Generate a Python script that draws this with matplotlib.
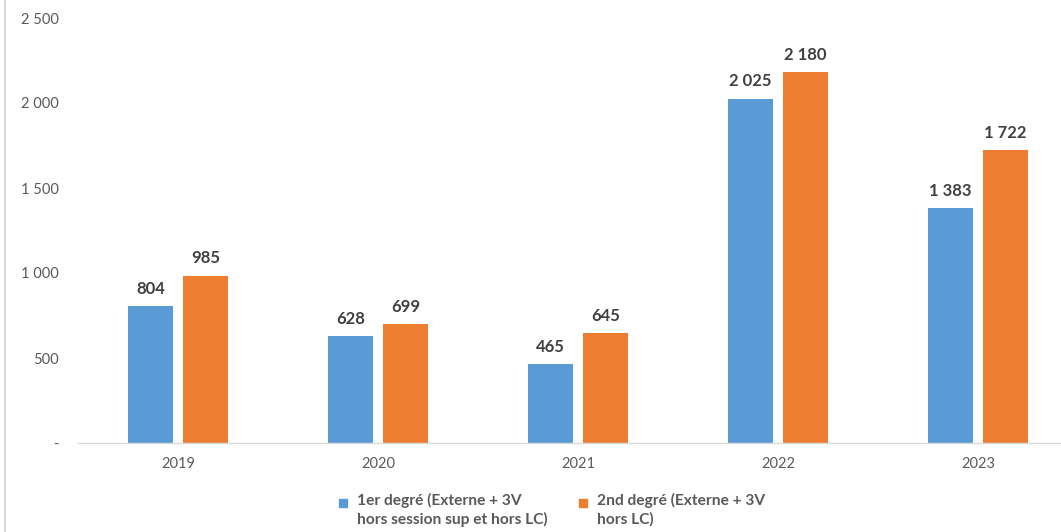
import matplotlib.pyplot as plt
import numpy as np
from matplotlib.lines import Line2D
from matplotlib.patches import Rectangle

years = ["2019", "2020", "2021", "2022", "2023"]
premier = [804, 628, 465, 2025, 1383]
second = [985, 699, 645, 2180, 1722]
series_labels = ["1er degré (Externe + 3V\nhors session sup et hors LC)",
                 "2nd degré (Externe + 3V\nhors LC)"]
yticks = [0, 500, 1000, 1500, 2000, 2500]
ytick_labels = ["-", "500", "1 000", "1 500", "2 000", "2 500"]

blue = "#5B9BD5"
orange = "#ED7D31"
font = ["Lato", "DejaVu Sans"]
plt.rcParams['font.family'] = font

W, H = 1061, 532
fig = plt.figure(figsize=(W/100, H/100), dpi=100)
ax = fig.add_axes([78/W, 89/H, 1000/W, 425/H])

x = np.arange(len(years))
bw = 0.225
off = 0.1375
b1 = ax.bar(x - off, premier, bw, color=blue)
b2 = ax.bar(x + off, second, bw, color=orange)

def fmt(v):
    return f"{v:,}".replace(",", " ")

for bars, vals in ((b1, premier), (b2, second)):
    for r, v in zip(bars, vals):
        ax.text(r.get_x() + r.get_width()/2, v + 55, fmt(v), ha="center", va="bottom",
                fontsize=12, fontweight="bold", color="#404040")

ax.set_xlim(-0.5, 4.5)
ax.set_ylim(0, 2500)
ax.set_yticks(yticks)
ax.set_yticklabels(ytick_labels)
ax.set_xticks(x)
ax.set_xticklabels(years)
ax.tick_params(axis="both", length=0, labelsize=10.5, labelcolor="#595959")
ax.tick_params(axis="y", pad=14)
ax.tick_params(axis="x", pad=10)
for s in ("top", "right", "left"):
    ax.spines[s].set_visible(False)
ax.spines["bottom"].set_color("#D9D9D9")
ax.spines["bottom"].set_linewidth(1)

# legend drawn manually (marker aligned with first line of text)
leg_items = [(343, blue, series_labels[0]), (583, orange, series_labels[1])]
for px, col, lab in leg_items:
    fig.add_artist(Rectangle(((px - 4) / W, 1 - 507/H), 8/W, 8/H, color=col,
                             transform=fig.transFigure))
    fig.text((px + 14) / W, 1 - 493/H, lab, ha="left", va="top", fontsize=11.2,
             fontweight="bold", color="#595959", linespacing=1.35)

fig.add_artist(Line2D([5/W, 5/W], [0, 1], color="#D9D9D9", linewidth=1.5))

fig.savefig("out.png", dpi=100)
